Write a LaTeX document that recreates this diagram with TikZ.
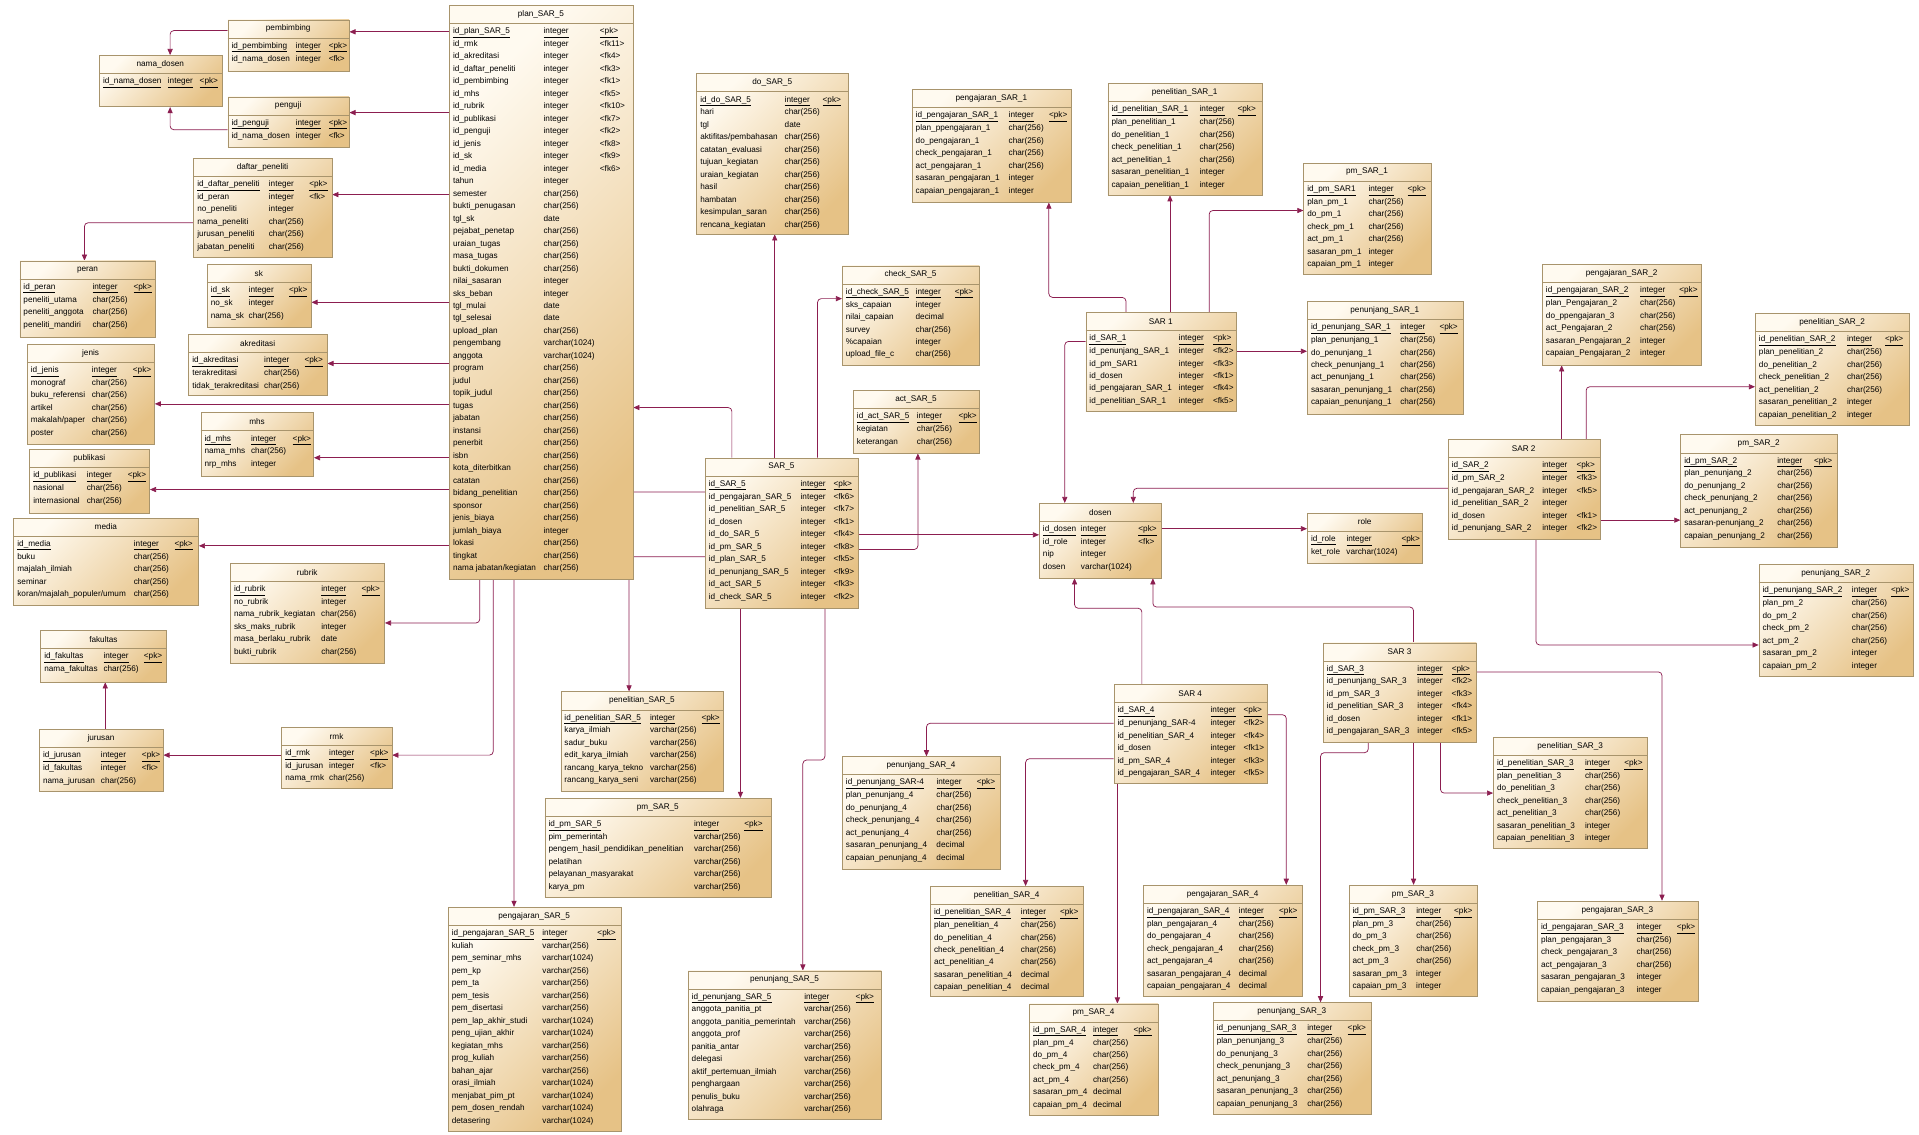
\documentclass[tikz,border=0pt]{standalone}
\usepackage{fontspec}
\setmainfont{Liberation Sans}
\usetikzlibrary{arrows.meta}
\pgfdeclarelayer{back}
\pgfdeclarelayer{bg}
\pgfsetlayers{back,bg,main}
\definecolor{erL}{HTML}{FFFAF0}
\definecolor{erR}{HTML}{E6C286}
\definecolor{erBd}{HTML}{A8946C}
\definecolor{fkc}{HTML}{8C1E50}
\newlength\erA
\newlength\erColB
\newcommand\erfont{\fontsize{6.7}{10.2}\selectfont}
\newcommand\rw[3]{\makebox[\erA][l]{#1}\makebox[\erColB][l]{#2}#3\\}
\newcommand\pk[3]{\makebox[\erA][l]{\underline{#1}}\makebox[\erColB][l]{\underline{#2}}\underline{#3}\\}
\tikzset{
  erbox/.style={draw=erBd, line width=0.5pt, top color=erL, bottom color=erR, shading angle=45, inner sep=0pt, rectangle},
  ertitle/.style={font=\erfont, inner sep=0pt, anchor=center},
  fk/.style={draw=fkc, line width=0.6pt, rounded corners=3pt, -{Triangle[length=5pt,width=4.2pt]}}
}
\newcommand\ertable[9]{%
  \node[erbox, minimum width=#4pt, minimum height=#5pt, anchor=north west] (#1) at (#2,#3) {};
  \node[ertitle] at ({#2+#4/2},{#3+7.5}) {#6};
  \draw[erBd, line width=0.5pt] (#2,{#3+15}) -- ({#2+#4},{#3+15});
  \global\erA=#7pt \global\erColB=#8pt
  \node[anchor=north west, inner sep=0pt, font=\erfont] at ({#2+3},{#3+16}) {\begin{tabular}{@{}l@{}}#9\end{tabular}};
}
\begin{document}
\catcode`\_=12
\begin{tikzpicture}[x=1pt,y=-1pt]
\begin{pgfonlayer}{back}
\fill[white] (0,0) rectangle (1568,927);
\end{pgfonlayer}
\useasboundingbox (0,0) rectangle (1568,927);
% ---------- left tables
\ertable{pembimbing}{186}{16}{99}{42}{pembimbing}{52.5}{27}{\pk{id_pembimbing}{integer}{<pk>}\rw{id_nama_dosen}{integer}{<fk>}}
\ertable{namadosen}{81}{45}{100}{42}{nama_dosen}{53}{26}{\pk{id_nama_dosen}{integer}{<pk>}}
\ertable{penguji}{186}{79}{99}{41}{penguji}{52.5}{27}{\pk{id_penguji}{integer}{<pk>}\rw{id_nama_dosen}{integer}{<fk>}}
\ertable{daftar}{158}{129}{113}{81}{daftar_peneliti}{58.5}{33}{\pk{id_daftar_peneliti}{integer}{<pk>}\rw{id_peran}{integer}{<fk>}\rw{no_peneliti}{integer}{}\rw{nama_peneliti}{char(256)}{}\rw{jurusan_peneliti}{char(256)}{}\rw{jabatan_peneliti}{char(256)}{}}
\ertable{peran}{16}{213}{111}{62}{peran}{56.4}{33.6}{\pk{id_peran}{integer}{<pk>}\rw{peneliti_utama}{char(256)}{}\rw{peneliti_anggota}{char(256)}{}\rw{peneliti_mandiri}{char(256)}{}}
\ertable{sk}{169}{216}{85}{51}{sk}{31}{33}{\pk{id_sk}{integer}{<pk>}\rw{no_sk}{integer}{}\rw{nama_sk}{char(256)}{}}
\ertable{akreditasi}{154}{273}{113}{50}{akreditasi}{58.7}{33}{\pk{id_akreditasi}{integer}{<pk>}\rw{terakreditasi}{char(256)}{}\rw{tidak_terakreditasi}{char(256)}{}}
\ertable{jenis}{22}{281}{104}{82}{jenis}{49.9}{33.5}{\pk{id_jenis}{integer}{<pk>}\rw{monograf}{char(256)}{}\rw{buku_referensi}{char(256)}{}\rw{artikel}{char(256)}{}\rw{makalah/paper}{char(256)}{}\rw{poster}{char(256)}{}}
\ertable{mhs}{164}{337}{92}{52}{mhs}{38}{34}{\pk{id_mhs}{integer}{<pk>}\rw{nama_mhs}{char(256)}{}\rw{nrp_mhs}{integer}{}}
\ertable{publikasi}{24}{367}{98}{52}{publikasi}{43.8}{33.5}{\pk{id_publikasi}{integer}{<pk>}\rw{nasional}{char(256)}{}\rw{internasional}{char(256)}{}}
\ertable{media}{11}{423}{151}{71}{media}{95.2}{33.2}{\pk{id_media}{integer}{<pk>}\rw{buku}{char(256)}{}\rw{majalah_ilmiah}{char(256)}{}\rw{seminar}{char(256)}{}\rw{koran/majalah_populer/umum}{char(256)}{}}
\ertable{rubrik}{188}{460}{126}{82}{rubrik}{71.3}{33}{\pk{id_rubrik}{integer}{<pk>}\rw{no_rubrik}{integer}{}\rw{nama_rubrik_kegiatan}{char(256)}{}\rw{sks_maks_rubrik}{integer}{}\rw{masa_berlaku_rubrik}{date}{}\rw{bukti_rubrik}{char(256)}{}}
\ertable{fakultas}{33}{515}{103}{42}{fakultas}{48.4}{33}{\pk{id_fakultas}{integer}{<pk>}\rw{nama_fakultas}{char(256)}{}}
\ertable{jurusan}{32}{596}{101}{50}{jurusan}{47.3}{33.5}{\pk{id_jurusan}{integer}{<pk>}\rw{id_fakultas}{integer}{<fk>}\rw{nama_jurusan}{char(256)}{}}
\ertable{rmk}{230}{594}{90}{50}{rmk}{35.8}{33.5}{\pk{id_rmk}{integer}{<pk>}\rw{id_jurusan}{integer}{<fk>}\rw{nama_rmk}{char(256)}{}}
% ---------- plan_SAR_5
\ertable{plan}{367}{4}{150}{469}{plan_SAR_5}{74}{46}{\pk{id_plan_SAR_5}{integer}{<pk>}\rw{id_rmk}{integer}{<fk11>}\rw{id_akreditasi}{integer}{<fk4>}\rw{id_daftar_peneliti}{integer}{<fk3>}\rw{id_pembimbing}{integer}{<fk1>}\rw{id_mhs}{integer}{<fk5>}\rw{id_rubrik}{integer}{<fk10>}\rw{id_publikasi}{integer}{<fk7>}\rw{id_penguji}{integer}{<fk2>}\rw{id_jenis}{integer}{<fk8>}\rw{id_sk}{integer}{<fk9>}\rw{id_media}{integer}{<fk6>}\rw{tahun}{integer}{}\rw{semester}{char(256)}{}\rw{bukti_penugasan}{char(256)}{}\rw{tgl_sk}{date}{}\rw{pejabat_penetap}{char(256)}{}\rw{uraian_tugas}{char(256)}{}\rw{masa_tugas}{char(256)}{}\rw{bukti_dokumen}{char(256)}{}\rw{nilai_sasaran}{integer}{}\rw{sks_beban}{integer}{}\rw{tgl_mulai}{date}{}\rw{tgl_selesai}{date}{}\rw{upload_plan}{char(256)}{}\rw{pengembang}{varchar(1024)}{}\rw{anggota}{varchar(1024)}{}\rw{program}{char(256)}{}\rw{judul}{char(256)}{}\rw{topik_judul}{char(256)}{}\rw{tugas}{char(256)}{}\rw{jabatan}{char(256)}{}\rw{instansi}{char(256)}{}\rw{penerbit}{char(256)}{}\rw{isbn}{char(256)}{}\rw{kota_diterbitkan}{char(256)}{}\rw{catatan}{char(256)}{}\rw{bidang_penelitian}{char(256)}{}\rw{sponsor}{char(256)}{}\rw{jenis_biaya}{char(256)}{}\rw{jumlah_biaya}{integer}{}\rw{lokasi}{char(256)}{}\rw{tingkat}{char(256)}{}\rw{nama jabatan/kegiatan}{char(256)}{}}
% ---------- SAR_5 group
\ertable{do}{569}{60}{124}{131}{do_SAR_5}{69}{31}{\pk{id_do_SAR_5}{integer}{<pk>}\rw{hari}{char(256)}{}\rw{tgl}{date}{}\rw{aktifitas/pembahasan}{char(256)}{}\rw{catatan_evaluasi}{char(256)}{}\rw{tujuan_kegiatan}{char(256)}{}\rw{uraian_kegiatan}{char(256)}{}\rw{hasil}{char(256)}{}\rw{hambatan}{char(256)}{}\rw{kesimpulan_saran}{char(256)}{}\rw{rencana_kegiatan}{char(256)}{}}
\ertable{check}{688}{217}{112}{81}{check_SAR_5}{57}{32}{\pk{id_check_SAR_5}{integer}{<pk>}\rw{sks_capaian}{integer}{}\rw{nilai_capaian}{decimal}{}\rw{survey}{char(256)}{}\rw{\%capaian}{integer}{}\rw{upload_file_c}{char(256)}{}}
\ertable{act}{697}{319}{103}{51}{act_SAR_5}{49}{34}{\pk{id_act_SAR_5}{integer}{<pk>}\rw{kegiatan}{char(256)}{}\rw{keterangan}{char(256)}{}}
\ertable{SARe}{576}{374}{125}{123}{SAR_5}{75}{27}{\pk{id_SAR_5}{integer}{<pk>}\rw{id_pengajaran_SAR_5}{integer}{<fk6>}\rw{id_penelitian_SAR_5}{integer}{<fk7>}\rw{id_dosen}{integer}{<fk1>}\rw{id_do_SAR_5}{integer}{<fk4>}\rw{id_pm_SAR_5}{integer}{<fk8>}\rw{id_plan_SAR_5}{integer}{<fk5>}\rw{id_penunjang_SAR_5}{integer}{<fk9>}\rw{id_act_SAR_5}{integer}{<fk3>}\rw{id_check_SAR_5}{integer}{<fk2>}}
\ertable{penelSARe}{458}{565}{133}{81}{penelitian_SAR_5}{70}{42}{\pk{id_penelitian_SAR_5}{integer}{<pk>}\rw{karya_ilmiah}{varchar(256)}{}\rw{sadur_buku}{varchar(256)}{}\rw{edit_karya_ilmiah}{varchar(256)}{}\rw{rancang_karya_tekno}{varchar(256)}{}\rw{rancang_karya_seni}{varchar(256)}{}}
\ertable{pmSARe}{445}{652}{185}{81}{pm_SAR_5}{119}{41}{\pk{id_pm_SAR_5}{integer}{<pk>}\rw{pim_pemerintah}{varchar(256)}{}\rw{pengem_hasil_pendidikan_penelitian}{varchar(256)}{}\rw{pelatihan}{varchar(256)}{}\rw{pelayanan_masyarakat}{varchar(256)}{}\rw{karya_pm}{varchar(256)}{}}
\ertable{pengSARe}{366}{741}{141}{183}{pengajaran_SAR_5}{74}{45}{\pk{id_pengajaran_SAR_5}{integer}{<pk>}\rw{kuliah}{varchar(256)}{}\rw{pem_seminar_mhs}{varchar(1024)}{}\rw{pem_kp}{varchar(256)}{}\rw{pem_ta}{varchar(256)}{}\rw{pem_tesis}{varchar(256)}{}\rw{pem_disertasi}{varchar(256)}{}\rw{pem_lap_akhir_studi}{varchar(1024)}{}\rw{peng_ujian_akhir}{varchar(1024)}{}\rw{kegiatan_mhs}{varchar(256)}{}\rw{prog_kuliah}{varchar(256)}{}\rw{bahan_ajar}{varchar(256)}{}\rw{orasi_ilmiah}{varchar(1024)}{}\rw{menjabat_pim_pt}{varchar(1024)}{}\rw{pem_dosen_rendah}{varchar(1024)}{}\rw{detasering}{varchar(1024)}{}}
\ertable{penunSARe}{562}{793}{158}{121}{penunjang_SAR_5}{92}{42}{\pk{id_penunjang_SAR_5}{integer}{<pk>}\rw{anggota_panitia_pt}{varchar(256)}{}\rw{anggota_panitia_pemerintah}{varchar(256)}{}\rw{anggota_prof}{varchar(256)}{}\rw{panitia_antar}{varchar(256)}{}\rw{delegasi}{varchar(256)}{}\rw{aktif_pertemuan_ilmiah}{varchar(256)}{}\rw{penghargaan}{varchar(256)}{}\rw{penulis_buku}{varchar(256)}{}\rw{olahraga}{varchar(256)}{}}
% ---------- SAR 1 group
\ertable{pengSARa}{745}{73}{130}{92}{pengajaran_SAR_1}{76}{33}{\pk{id_pengajaran_SAR_1}{integer}{<pk>}\rw{plan_ppengajaran_1}{char(256)}{}\rw{do_pengajaran_1}{char(256)}{}\rw{check_pengajaran_1}{char(256)}{}\rw{act_pengajaran_1}{char(256)}{}\rw{sasaran_pengajaran_1}{integer}{}\rw{capaian_pengajaran_1}{integer}{}}
\ertable{penelSARa}{905}{68}{126}{91}{penelitian_SAR_1}{72}{31}{\pk{id_penelitian_SAR_1}{integer}{<pk>}\rw{plan_penelitian_1}{char(256)}{}\rw{do_penelitian_1}{char(256)}{}\rw{check_penelitian_1}{char(256)}{}\rw{act_penelitian_1}{char(256)}{}\rw{sasaran_penelitian_1}{integer}{}\rw{capaian_penelitian_1}{integer}{}}
\ertable{pmSARa}{1065}{133}{104}{91}{pm_SAR_1}{50}{32}{\pk{id_pm_SAR1}{integer}{<pk>}\rw{plan_pm_1}{char(256)}{}\rw{do_pm_1}{char(256)}{}\rw{check_pm_1}{char(256)}{}\rw{act_pm_1}{char(256)}{}\rw{sasaran_pm_1}{integer}{}\rw{capaian_pm_1}{integer}{}}
\ertable{SARa}{887}{255}{123}{81}{SAR 1}{73}{28}{\pk{id_SAR_1}{integer}{<pk>}\rw{id_penunjang_SAR_1}{integer}{<fk2>}\rw{id_pm_SAR1}{integer}{<fk3>}\rw{id_dosen}{integer}{<fk1>}\rw{id_pengajaran_SAR_1}{integer}{<fk4>}\rw{id_penelitian_SAR_1}{integer}{<fk5>}}
\ertable{penunSARa}{1068}{246}{127}{92}{penunjang_SAR_1}{73}{32}{\pk{id_penunjang_SAR_1}{integer}{<pk>}\rw{plan_penunjang_1}{char(256)}{}\rw{do_penunjang_1}{char(256)}{}\rw{check_penunjang_1}{char(256)}{}\rw{act_penunjang_1}{char(256)}{}\rw{sasaran_penunjang_1}{char(256)}{}\rw{capaian_penunjang_1}{char(256)}{}}
% ---------- SAR 2 group
\ertable{pengSARb}{1260}{216}{130}{82}{pengajaran_SAR_2}{77}{32}{\pk{id_pengajaran_SAR_2}{integer}{<pk>}\rw{plan_Pengajaran_2}{char(256)}{}\rw{do_ppengajaran_3}{char(256)}{}\rw{act_Pengajaran_2}{char(256)}{}\rw{sasaran_Pengajaran_2}{integer}{}\rw{capaian_Pengajaran_2}{integer}{}}
\ertable{penelSARb}{1434}{256}{126}{91}{penelitian_SAR_2}{72}{31}{\pk{id_penelitian_SAR_2}{integer}{<pk>}\rw{plan_penelitian_2}{char(256)}{}\rw{do_penelitian_2}{char(256)}{}\rw{check_penelitian_2}{char(256)}{}\rw{act_penelitian_2}{char(256)}{}\rw{sasaran_penelitian_2}{integer}{}\rw{capaian_penelitian_2}{integer}{}}
\ertable{SARb}{1183}{359}{124}{81}{SAR 2}{74}{28}{\pk{id_SAR_2}{integer}{<pk>}\rw{id_pm_SAR_2}{integer}{<fk3>}\rw{id_pengajaran_SAR_2}{integer}{<fk5>}\rw{id_penelitian_SAR_2}{integer}{}\rw{id_dosen}{integer}{<fk1>}\rw{id_penunjang_SAR_2}{integer}{<fk2>}}
\ertable{pmSARb}{1373}{355}{128}{92}{pm_SAR_2}{76}{30}{\pk{id_pm_SAR_2}{integer}{<pk>}\rw{plan_penunjang_2}{char(256)}{}\rw{do_penunjang_2}{char(256)}{}\rw{check_penunjang_2}{char(256)}{}\rw{act_penunjang_2}{char(256)}{}\rw{sasaran-penunjang_2}{char(256)}{}\rw{capaian_penunjang_2}{char(256)}{}}
\ertable{penunSARb}{1437}{461}{126}{91}{penunjang_SAR_2}{73}{32}{\pk{id_penunjang_SAR_2}{integer}{<pk>}\rw{plan_pm_2}{char(256)}{}\rw{do_pm_2}{char(256)}{}\rw{check_pm_2}{char(256)}{}\rw{act_pm_2}{char(256)}{}\rw{sasaran_pm_2}{integer}{}\rw{capaian_pm_2}{integer}{}}
% ---------- dosen, role
\ertable{dosen}{849}{411}{100}{61}{dosen}{31}{47}{\pk{id_dosen}{integer}{<pk>}\rw{id_role}{integer}{<fk>}\rw{nip}{integer}{}\rw{dosen}{varchar(1024)}{}}
\ertable{role}{1068}{419}{94}{41}{role}{29}{45}{\pk{id_role}{integer}{<pk>}\rw{ket_role}{varchar(1024)}{}}
% ---------- SAR 3 group
\ertable{SARc}{1081}{525}{125}{81}{SAR 3}{74}{28}{\pk{id_SAR_3}{integer}{<pk>}\rw{id_penunjang_SAR_3}{integer}{<fk2>}\rw{id_pm_SAR_3}{integer}{<fk3>}\rw{id_penelitian_SAR_3}{integer}{<fk4>}\rw{id_dosen}{integer}{<fk1>}\rw{id_pengajaran_SAR_3}{integer}{<fk5>}}
\ertable{penelSARc}{1220}{602}{126}{91}{penelitian_SAR_3}{72}{32}{\pk{id_penelitian_SAR_3}{integer}{<pk>}\rw{plan_penelitian_3}{char(256)}{}\rw{do_penelitian_3}{char(256)}{}\rw{check_penelitian_3}{char(256)}{}\rw{act_penelitian_3}{char(256)}{}\rw{sasaran_penelitian_3}{integer}{}\rw{capaian_penelitian_3}{integer}{}}
\ertable{pengSARc}{1256}{736}{131}{82}{pengajaran_SAR_3}{78}{33}{\pk{id_pengajaran_SAR_3}{integer}{<pk>}\rw{plan_pengajaran_3}{char(256)}{}\rw{check_pengajaran_3}{char(256)}{}\rw{act_pengajaran_3}{char(256)}{}\rw{sasaran_pengajaran_3}{integer}{}\rw{capaian_pengajaran_3}{integer}{}}
\ertable{pmSARc}{1102}{723}{105}{91}{pm_SAR_3}{52}{31}{\pk{id_pm_SAR_3}{integer}{<pk>}\rw{plan_pm_3}{char(256)}{}\rw{do_pm_3}{char(256)}{}\rw{check_pm_3}{char(256)}{}\rw{act_pm_3}{char(256)}{}\rw{sasaran_pm_3}{integer}{}\rw{capaian_pm_3}{integer}{}}
\ertable{penunSARc}{991}{819}{129}{91}{penunjang_SAR_3}{74}{33}{\pk{id_penunjang_SAR_3}{integer}{<pk>}\rw{plan_penunjang_3}{char(256)}{}\rw{do_penunjang_3}{char(256)}{}\rw{check_penunjang_3}{char(256)}{}\rw{act_penunjang_3}{char(256)}{}\rw{sasaran_penunjang_3}{char(256)}{}\rw{capaian_penunjang_3}{char(256)}{}}
% ---------- SAR 4 group
\ertable{SARd}{910}{559}{125}{81}{SAR 4}{76}{27}{\pk{id_SAR_4}{integer}{<pk>}\rw{id_penunjang_SAR-4}{integer}{<fk2>}\rw{id_penelitian_SAR_4}{integer}{<fk4>}\rw{id_dosen}{integer}{<fk1>}\rw{id_pm_SAR_4}{integer}{<fk3>}\rw{id_pengajaran_SAR_4}{integer}{<fk5>}}
\ertable{penunSARd}{688}{618}{129}{92}{penunjang_SAR_4}{74}{33}{\pk{id_penunjang_SAR-4}{integer}{<pk>}\rw{plan_penunjang_4}{char(256)}{}\rw{do_penunjang_4}{char(256)}{}\rw{check_penunjang_4}{char(256)}{}\rw{act_penunjang_4}{char(256)}{}\rw{sasaran_penunjang_4}{decimal}{}\rw{capaian_penunjang_4}{decimal}{}}
\ertable{penelSARd}{760}{724}{125}{90}{penelitian_SAR_4}{71}{32}{\pk{id_penelitian_SAR_4}{integer}{<pk>}\rw{plan_penelitian_4}{char(256)}{}\rw{do_penelitian_4}{char(256)}{}\rw{check_penelitian_4}{char(256)}{}\rw{act_penelitian_4}{char(256)}{}\rw{sasaran_penelitian_4}{decimal}{}\rw{capaian_penelitian_4}{decimal}{}}
\ertable{pengSARd}{934}{723}{130}{91}{pengajaran_SAR_4}{75}{33}{\pk{id_pengajaran_SAR_4}{integer}{<pk>}\rw{plan_pengajaran_4}{char(256)}{}\rw{do_pengajaran_4}{char(256)}{}\rw{check_pengajaran_4}{char(256)}{}\rw{act_pengajaran_4}{char(256)}{}\rw{sasaran_pengajaran_4}{decimal}{}\rw{capaian_pengajaran_4}{decimal}{}}
\ertable{pmSARd}{841}{820}{105}{91}{pm_SAR_4}{49}{33}{\pk{id_pm_SAR_4}{integer}{<pk>}\rw{plan_pm_4}{char(256)}{}\rw{do_pm_4}{char(256)}{}\rw{check_pm_4}{char(256)}{}\rw{act_pm_4}{char(256)}{}\rw{sasaran_pm_4}{decimal}{}\rw{capaian_pm_4}{decimal}{}}
% ---------- connectors
\begin{pgfonlayer}{bg}
\draw[fk] (plan.west |- 0,26) -- (pembimbing.east |- 0,26);
\draw[fk] (plan.west |- 0,92) -- (penguji.east |- 0,92);
\draw[fk] (plan.west |- 0,159) -- (daftar.east |- 0,159);
\draw[fk] (plan.west |- 0,247) -- (sk.east |- 0,247);
\draw[fk] (plan.west |- 0,297) -- (akreditasi.east |- 0,297);
\draw[fk] (plan.west |- 0,330) -- (jenis.east |- 0,330);
\draw[fk] (plan.west |- 0,374) -- (mhs.east |- 0,374);
\draw[fk] (plan.west |- 0,400) -- (publikasi.east |- 0,400);
\draw[fk] (plan.west |- 0,446) -- (media.east |- 0,446);
\draw[fk] (plan.south -| 392,0) -- (392,509) -- (rubrik.east |- 0,509);
\draw[fk] (plan.south -| 403,0) -- (403,617) -- (rmk.east |- 0,617);
\draw[fk] (pembimbing.west |- 0,25) -- (139,25) -- (namadosen.north -| 139,0);
\draw[fk] (penguji.west |- 0,106) -- (139,106) -- (namadosen.south -| 139,0);
\draw[fk] (daftar.west |- 0,182) -- (69,182) -- (peran.north -| 69,0);
\draw[fk] (rmk.west |- 0,617) -- (jurusan.east |- 0,617);
\draw[fk] (jurusan.north -| 86,0) -- (fakultas.south -| 86,0);
% SAR_5
\draw[fk] (SARe.north -| 633,0) -- (do.south -| 633,0);
\draw[fk] (SARe.north -| 668,0) -- (668,244) -- (check.west |- 0,244);
\draw[fk] (SARe.east |- 0,449) -- (750,449) -- (act.south -| 750,0);
\draw[fk] (SARe.east |- 0,437) -- (dosen.west |- 0,437);
\draw[fk] (SARe.north -| 598,0) -- (598,333) -- (plan.east |- 0,333);
\draw[fk] (SARe.west |- 0,402) -- (420,402) -- (pengSARe.north -| 420,0);
\draw[fk] (SARe.west |- 0,455) -- (514,455) -- (penelSARe.north -| 514,0);
\draw[fk] (SARe.south -| 605,0) -- (pmSARe.north -| 605,0);
\draw[fk] (SARe.south -| 674,0) -- (674,621) -- (656,621) -- (penunSARe.north -| 656,0);
% SAR 1
\draw[fk] (SARa.north -| 920,0) -- (920,243) -- (857,243) -- (pengSARa.south -| 857,0);
\draw[fk] (SARa.north -| 956,0) -- (penelSARa.south -| 956,0);
\draw[fk] (SARa.north -| 988,0) -- (988,172) -- (pmSARa.west |- 0,172);
\draw[fk] (SARa.east |- 0,287) -- (penunSARa.west |- 0,287);
\draw[fk] (SARa.west |- 0,279) -- (870,279) -- (dosen.north -| 870,0);
% SAR 2
\draw[fk] (SARb.north -| 1276,0) -- (pengSARb.south -| 1276,0);
\draw[fk] (SARb.north -| 1296,0) -- (1296,316) -- (penelSARb.west |- 0,316);
\draw[fk] (SARb.east |- 0,425) -- (pmSARb.west |- 0,425);
\draw[fk] (SARb.south -| 1255,0) -- (1255,527) -- (penunSARb.west |- 0,527);
\draw[fk] (SARb.west |- 0,399) -- (926,399) -- (dosen.north -| 926,0);
\draw[fk] (dosen.east |- 0,432) -- (role.west |- 0,432);
% SAR 3
\draw[fk] (SARc.north -| 1155,0) -- (1155,496) -- (942,496) -- (dosen.south -| 942,0);
\draw[fk] (SARc.south -| 1177,0) -- (1177,648) -- (penelSARc.west |- 0,648);
\draw[fk] (SARc.east |- 0,549) -- (1358,549) -- (pengSARc.north -| 1358,0);
\draw[fk] (SARc.south -| 1155,0) -- (pmSARc.north -| 1155,0);
\draw[fk] (SARc.south -| 1118,0) -- (1118,615) -- (1079,615) -- (penunSARc.north -| 1079,0);
% SAR 4
\draw[fk] (SARd.north -| 933,0) -- (933,497) -- (878,497) -- (dosen.south -| 878,0);
\draw[fk] (SARd.west |- 0,591) -- (757,591) -- (penunSARd.north -| 757,0);
\draw[fk] (SARd.west |- 0,620) -- (838,620) -- (penelSARd.north -| 838,0);
\draw[fk] (SARd.east |- 0,584) -- (1051,584) -- (pengSARd.north -| 1051,0);
\draw[fk] (SARd.south -| 913,0) -- (pmSARd.north -| 913,0);
\end{pgfonlayer}
\end{tikzpicture}
\end{document}
